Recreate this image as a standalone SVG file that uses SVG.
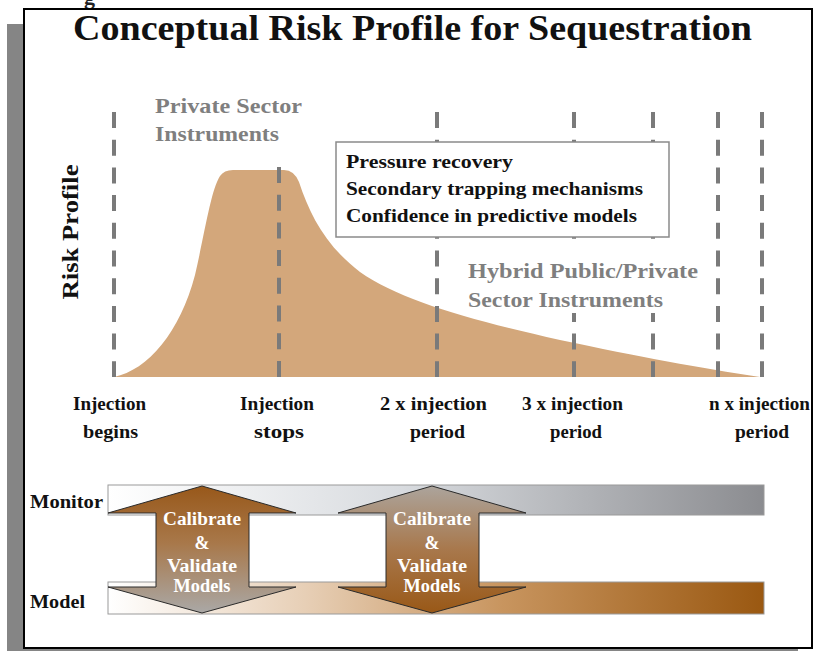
<svg xmlns="http://www.w3.org/2000/svg" width="814" height="651" viewBox="0 0 814 651">
  <defs>
    <style>
      .serif { font-family: "Liberation Serif", "Times New Roman", serif; font-weight: bold; }
      .title { font-size: 36px; fill: #111; }
      .axis { font-size: 23px; fill: #111; }
      .note { font-size: 19px; fill: #111; }
      .gray { font-size: 22px; fill: #7f7f7f; }
      .tick { font-size: 19px; fill: #111; }
      .row { font-size: 19px; fill: #111; }
      .inarrow { font-size: 18px; fill: #ffffff; text-anchor: middle; }
      .dash { stroke: #7a7a7a; stroke-width: 4; stroke-dasharray: 16 11.7; fill: none; }
      .arrow { stroke: #2a2a2a; stroke-width: 1; stroke-linejoin: miter; }
      .bar { stroke: #9a9a9a; stroke-width: 1; }
    </style>
    <linearGradient id="gMonitor" x1="0" y1="0" x2="1" y2="0">
      <stop offset="0" stop-color="#ffffff"/>
      <stop offset="0.45" stop-color="#d8dbdf"/>
      <stop offset="1" stop-color="#8b8c90"/>
    </linearGradient>
    <linearGradient id="gModel" x1="0" y1="0" x2="1" y2="0">
      <stop offset="0" stop-color="#ffffff"/>
      <stop offset="0.3" stop-color="#e7cfb6"/>
      <stop offset="0.6" stop-color="#c8955f"/>
      <stop offset="1" stop-color="#9a5811"/>
    </linearGradient>
    <linearGradient id="gDown" x1="0" y1="0" x2="0" y2="1">
      <stop offset="0" stop-color="#98581a"/>
      <stop offset="0.45" stop-color="#a8784a"/>
      <stop offset="1" stop-color="#aaa8a6"/>
    </linearGradient>
    <linearGradient id="gUp" x1="0" y1="0" x2="0" y2="1">
      <stop offset="0" stop-color="#aca49c"/>
      <stop offset="0.5" stop-color="#a8784c"/>
      <stop offset="1" stop-color="#995817"/>
    </linearGradient>
  </defs>

  <rect width="814" height="651" fill="#ffffff"/>

  <!-- caption fragment running off the top edge -->
  <text class="serif" x="84" y="4" font-size="22" font-weight="normal" fill="#222">g</text>

  <!-- frame with drop shadow -->
  <rect x="7" y="24" width="791" height="630" fill="#858585"/>
  <rect x="24" y="9" width="788" height="639" fill="#ffffff" stroke="#000" stroke-width="2"/>

  <text class="serif title" x="73" y="40" textLength="679" lengthAdjust="spacingAndGlyphs">Conceptual Risk Profile for Sequestration</text>

  <text class="serif axis" transform="translate(78,232) rotate(-90)" text-anchor="middle" textLength="135" lengthAdjust="spacingAndGlyphs">Risk Profile</text>

  <!-- risk curve -->
  <g id="risk-curve">
    <path d="M114,377 C148,370 180,332 195,275 C205,232 211,190 220,176 Q224,170 233,170 L284,170 Q294,170 299,182 C310,215 325,245 360,272 C400,300 470,320 560,340 C640,357 700,368 760,377 Z" fill="#d3a77b"/>
  </g>

  <!-- time markers -->
  <g id="markers">
    <line class="dash" x1="114" y1="112" x2="114" y2="377"/>
    <line class="dash" x1="279" y1="167" x2="279" y2="377"/>
    <line class="dash" x1="437" y1="112" x2="437" y2="377"/>
    <line class="dash" x1="574" y1="112" x2="574" y2="377"/>
    <line class="dash" x1="653" y1="112" x2="653" y2="377"/>
    <line class="dash" x1="718" y1="112" x2="718" y2="377"/>
    <line class="dash" x1="762" y1="112" x2="762" y2="377"/>
  </g>

  <g id="private-label">
    <text class="serif gray" x="155" y="113" textLength="147" lengthAdjust="spacingAndGlyphs">Private Sector</text>
    <text class="serif gray" x="155" y="141" textLength="124" lengthAdjust="spacingAndGlyphs">Instruments</text>
  </g>

  <g id="hybrid-label">
    <rect x="455" y="239" width="250" height="74" fill="#ffffff"/>
    <text class="serif gray" x="468" y="278" textLength="230" lengthAdjust="spacingAndGlyphs">Hybrid Public/Private</text>
    <text class="serif gray" x="468" y="307" textLength="195" lengthAdjust="spacingAndGlyphs">Sector Instruments</text>
  </g>

  <g id="criteria-box">
    <rect x="336" y="142" width="333" height="95" fill="#ffffff" stroke="#8a8a8a" stroke-width="1.5"/>
    <text class="serif note" x="346" y="168" textLength="167" lengthAdjust="spacingAndGlyphs">Pressure recovery</text>
    <text class="serif note" x="346" y="195" textLength="297" lengthAdjust="spacingAndGlyphs">Secondary trapping mechanisms</text>
    <text class="serif note" x="346" y="222" textLength="291" lengthAdjust="spacingAndGlyphs">Confidence in predictive models</text>
  </g>

  <g id="time-labels">
    <text class="serif tick" x="73" y="410" textLength="73" lengthAdjust="spacingAndGlyphs">Injection</text>
    <text class="serif tick" x="83" y="438" textLength="55" lengthAdjust="spacingAndGlyphs">begins</text>
    <text class="serif tick" x="240" y="410" textLength="74" lengthAdjust="spacingAndGlyphs">Injection</text>
    <text class="serif tick" x="254" y="438" textLength="50" lengthAdjust="spacingAndGlyphs">stops</text>
    <text class="serif tick" x="380" y="410" textLength="107" lengthAdjust="spacingAndGlyphs">2 x injection</text>
    <text class="serif tick" x="410" y="438" textLength="55" lengthAdjust="spacingAndGlyphs">period</text>
    <text class="serif tick" x="522" y="410" textLength="101" lengthAdjust="spacingAndGlyphs">3 x injection</text>
    <text class="serif tick" x="550" y="438" textLength="52" lengthAdjust="spacingAndGlyphs">period</text>
    <text class="serif tick" x="709" y="410" textLength="101" lengthAdjust="spacingAndGlyphs">n x injection</text>
    <text class="serif tick" x="735" y="438" textLength="54" lengthAdjust="spacingAndGlyphs">period</text>
  </g>

  <g id="monitor-bar">
    <rect class="bar" x="108" y="485" width="656" height="30" fill="url(#gMonitor)"/>
    <text class="serif row" x="30" y="508" textLength="73" lengthAdjust="spacingAndGlyphs">Monitor</text>
  </g>

  <g id="model-bar">
    <rect class="bar" x="108" y="582" width="656" height="32" fill="url(#gModel)"/>
    <text class="serif row" x="30" y="608" textLength="55" lengthAdjust="spacingAndGlyphs">Model</text>
  </g>

  <g id="calibrate-1">
    <path class="arrow" fill="url(#gDown)" d="M202,486 L296,513 L249,513 L249,587 L296,587 L202,613 L108,587 L156,587 L156,513 L108,513 Z"/>
    <text class="serif inarrow" x="202" y="525" textLength="78" lengthAdjust="spacingAndGlyphs">Calibrate</text>
    <text class="serif inarrow" x="202" y="549">&amp;</text>
    <text class="serif inarrow" x="202" y="572" textLength="70" lengthAdjust="spacingAndGlyphs">Validate</text>
    <text class="serif inarrow" x="202" y="592" textLength="57" lengthAdjust="spacingAndGlyphs">Models</text>
  </g>

  <g id="calibrate-2">
    <path class="arrow" fill="url(#gUp)" d="M432,486 L526,513 L479,513 L479,587 L526,587 L432,613 L338,587 L386,587 L386,513 L338,513 Z"/>
    <text class="serif inarrow" x="432" y="525" textLength="78" lengthAdjust="spacingAndGlyphs">Calibrate</text>
    <text class="serif inarrow" x="432" y="549">&amp;</text>
    <text class="serif inarrow" x="432" y="572" textLength="70" lengthAdjust="spacingAndGlyphs">Validate</text>
    <text class="serif inarrow" x="432" y="592" textLength="57" lengthAdjust="spacingAndGlyphs">Models</text>
  </g>
</svg>
